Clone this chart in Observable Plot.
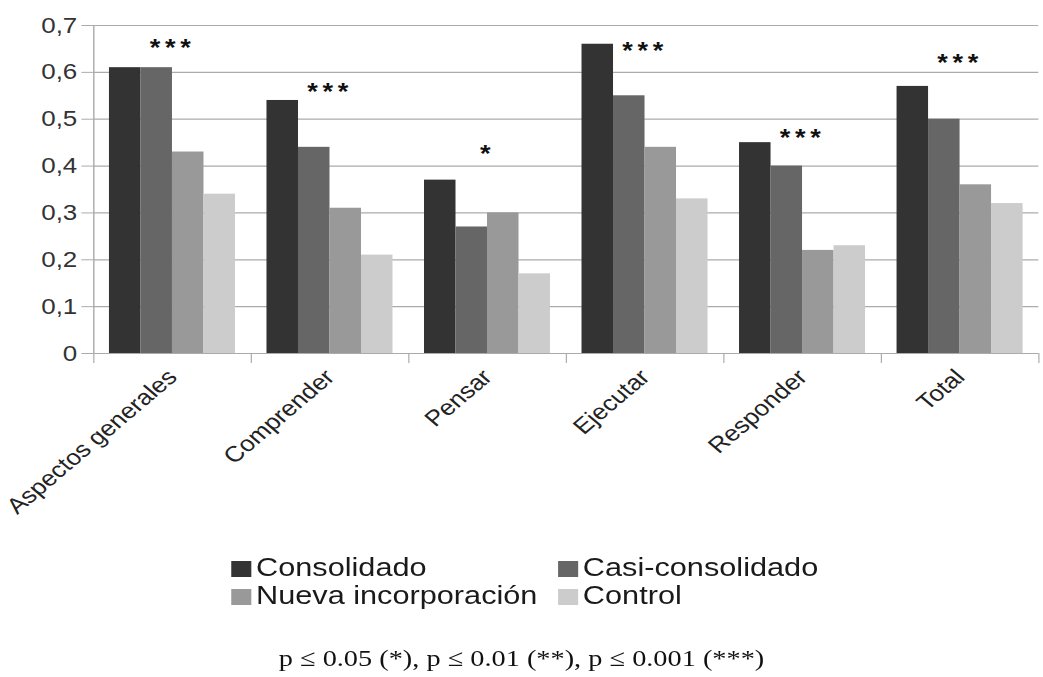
<!DOCTYPE html>
<html>
<head>
<meta charset="utf-8">
<script src="https://cdn.jsdelivr.net/npm/d3@7"></script>
<script src="https://cdn.jsdelivr.net/npm/@observablehq/plot@0.6"></script>
<style>
  html, body { margin: 0; padding: 0; background: #fff; overflow: hidden; }
  #wrap { position: relative; width: 884px; height: 677px; transform: scaleX(1.1799); transform-origin: 0 0; }
  #chart svg { display: block; }
  g[aria-label="text"] text { letter-spacing: 4px; }
  .legend { position: absolute; left: 0; top: 553px; width: 884px; font-family: "Liberation Sans", Arial, sans-serif; font-size: 26px; color: #1a1a1a; }
  .legend .item { position: absolute; height: 28px; line-height: 28px; white-space: nowrap; display: flex; align-items: center; }
  .legend .sw { width: 17px; height: 16px; margin-right: 4px; margin-top: 4px; }
  .caption { position: absolute; left: 0; top: 645px; width: 884px; text-align: center; font-family: "Liberation Serif", "Times New Roman", serif; font-size: 24px; line-height: 26px; color: #111; }
</style>
</head>
<body>
<div id="wrap">
  <div id="chart"></div>
  <div class="legend" id="legend"></div>
  <div class="caption" id="caption"></div>
</div>
<script>
const categories = ["Aspectos generales", "Comprender", "Pensar", "Ejecutar", "Responder", "Total"];
const groups = ["Consolidado", "Casi-consolidado", "Nueva incorporación", "Control"];
const consolidado = [0.61, 0.54, 0.37, 0.66, 0.45, 0.57];
const casiConsolidado = [0.61, 0.44, 0.27, 0.55, 0.40, 0.50];
const nuevaIncorporacion = [0.43, 0.31, 0.30, 0.44, 0.22, 0.36];
const control = [0.34, 0.21, 0.17, 0.33, 0.23, 0.32];
const significance = ["***", "***", "*", "***", "***", "***"];
const significanceLevel = [0.664, 0.569, 0.438, 0.658, 0.472, 0.632];
const yTicks = [0, 0.1, 0.2, 0.3, 0.4, 0.5, 0.6, 0.7];
const colors = ["#333333", "#666666", "#999999", "#cccccc"];
const captionText = "p ≤ 0.05 (*), p ≤ 0.01 (**), p ≤ 0.001 (***)";

const series = [consolidado, casiConsolidado, nuevaIncorporacion, control];
const rows = [];
categories.forEach((c, ci) => {
  series.forEach((s, gi) => rows.push({category: c, ci, group: groups[gi], gi, value: s[ci]}));
});
const sigRows = categories.map((c, ci) => ({ci, sig: significance[ci], level: significanceLevel[ci]}));

const pad = 0.1;
const bw = (1 - 2 * pad) / groups.length;
const gridColor = "#ababab";

const chart = Plot.plot({
  width: 884,
  height: 520,
  marginLeft: 79,
  marginRight: 4,
  marginTop: 25,
  marginBottom: 167,
  style: {fontFamily: "'Liberation Sans', Arial, sans-serif", fontSize: "22px", background: "#fff", color: "#333"},
  x: {domain: [0, categories.length], axis: null},
  y: {domain: [0, 0.7], axis: null},
  color: {domain: groups, range: colors},
  marks: [
    Plot.ruleY(yTicks, {stroke: gridColor, strokeWidth: 1.2}),
    Plot.rectY(rows, {
      x1: d => d.ci + pad + d.gi * bw,
      x2: d => d.ci + pad + (d.gi + 1) * bw,
      y1: 0,
      y2: "value",
      fill: "group"
    }),
    Plot.ruleX([0], {stroke: gridColor, strokeWidth: 1.2}),
    Plot.axisY(yTicks, {
      tickSize: 10,
      tickPadding: 4,
      stroke: gridColor,
      fill: "#333",
      fontSize: 22,
      tickFormat: d => d === 0 ? "0" : d.toFixed(1).replace(".", ",")
    }),
    Plot.axisX(d3.range(categories.length + 1), {
      tickSize: 10,
      stroke: gridColor,
      tickFormat: () => ""
    }),
    Plot.axisX(categories.map((c, i) => i + 0.5), {
      tickSize: 0,
      tickPadding: 20,
      tickRotate: -45,
      fill: "#222",
      fontSize: 22,
      tickFormat: d => categories[Math.floor(d)]
    }),
    Plot.text(sigRows, {
      x: d => d.ci + 0.5,
      y: "level",
      text: "sig",
      fontSize: 23,
      fontWeight: "bold",
      fill: "#111",
      dy: 6
    })
  ]
});
document.getElementById("chart").appendChild(chart);

const legend = document.getElementById("legend");
const colLeft = [196, 473];
groups.forEach((g, i) => {
  const item = document.createElement("div");
  item.className = "item";
  item.style.left = colLeft[i % 2] + "px";
  item.style.top = (Math.floor(i / 2) * 28) + "px";
  const sw = document.createElement("span");
  sw.className = "sw";
  sw.style.background = colors[i];
  const t = document.createElement("span");
  t.textContent = g;
  item.appendChild(sw);
  item.appendChild(t);
  legend.appendChild(item);
});
document.getElementById("caption").textContent = captionText;
</script>
</body>
</html>
